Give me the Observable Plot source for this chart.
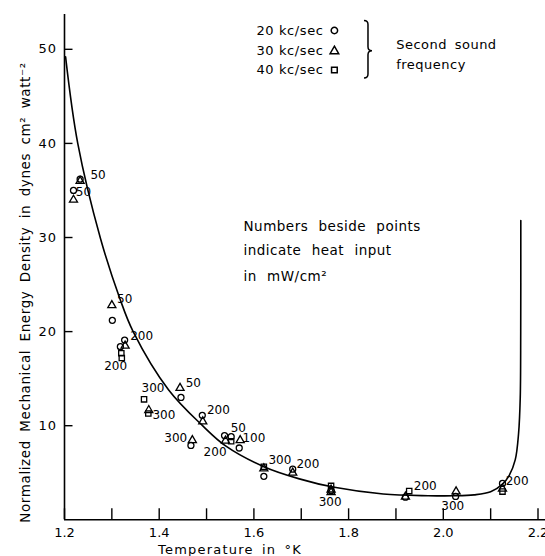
<!DOCTYPE html>
<html>
<head>
<meta charset="utf-8">
<script src="https://cdn.jsdelivr.net/npm/d3@7"></script>
<script src="https://cdn.jsdelivr.net/npm/@observablehq/plot@0.6"></script>
<style>
  html, body { margin: 0; padding: 0; background: #fff; }
  svg { font-family: "DejaVu Sans", sans-serif; }
  .ytitle text { letter-spacing: 0.6px; word-spacing: 3.5px; }
  .xtitle text { letter-spacing: 1.2px; word-spacing: 3px; }
  .legend-text text { letter-spacing: 0.6px; }
  .legend-title text { letter-spacing: 0.5px; word-spacing: 3px; }
  .note text { letter-spacing: 0.5px; word-spacing: 5.5px; }
  .ytick text { letter-spacing: 1px; }
</style>
</head>
<body>
<div id="chart"></div>
<script>
// ---- data ----
const freqs = ["20 kc/sec", "30 kc/sec", "40 kc/sec"];

// 20 kc/sec (circles)
const circleT = [1.219, 1.233, 1.301, 1.327, 1.318, 1.446, 1.491, 1.467, 1.538, 1.552, 1.569, 1.621, 1.682, 1.763, 1.920, 2.026, 2.125];
const circleE = [35.0, 36.2, 21.2, 19.1, 18.4, 13.0, 11.1, 7.9, 8.95, 8.83, 7.63, 4.62, 5.38, 3.1, 2.4, 2.48, 3.87];
// 30 kc/sec (triangles)
const triT = [1.219, 1.233, 1.300, 1.328, 1.378, 1.444, 1.492, 1.470, 1.540, 1.571, 1.621, 1.682, 1.763, 1.763, 1.920, 2.027, 2.125];
const triE = [34.0, 36.0, 22.8, 18.5, 11.65, 14.0, 10.45, 8.45, 8.4, 8.45, 5.45, 5.0, 3.2, 2.93, 2.45, 3.0, 3.3];
// 40 kc/sec (squares)
const sqT = [1.320, 1.321, 1.368, 1.377, 1.552, 1.621, 1.763, 1.928, 2.125];
const sqE = [17.7, 17.2, 12.8, 11.3, 8.35, 5.64, 3.6, 3.05, 3.0];

// heat input labels (mW/cm^2) and where they sit
const heatText = ["50", "50", "50", "200", "200", "300", "300", "50", "200", "300", "50", "100", "200", "300", "200", "300", "200", "300", "200"];
const heatT = [1.271, 1.240, 1.327, 1.363, 1.308, 1.387, 1.410, 1.472, 1.525, 1.435, 1.567, 1.600, 1.518, 1.655, 1.714, 1.761, 1.962, 2.020, 2.156];
const heatE = [36.6, 34.8, 23.5, 19.5, 16.35, 14.0, 11.1, 14.5, 11.7, 8.7, 9.7, 8.65, 7.14, 6.3, 5.94, 1.88, 3.57, 1.5, 4.06];

// theoretical curve
const curveT = [1.2023, 1.228, 1.276, 1.317, 1.345, 1.420, 1.490, 1.541, 1.621, 1.696, 1.770, 1.873, 1.968, 2.0225, 2.065, 2.100, 2.125, 2.139, 2.152, 2.159, 2.1625, 2.1635, 2.1637];
const curveE = [49.2, 40.0, 29.9, 23.5, 20.0, 13.8, 10.08, 7.82, 5.64, 4.35, 3.45, 2.74, 2.56, 2.55, 2.65, 2.98, 3.8, 4.7, 6.4, 9.2, 13.0, 20.0, 31.8];

const xTicksMajor = [1.2, 1.4, 1.6, 1.8, 2.0, 2.2];
const xTicksMinor = [1.2, 1.3, 1.4, 1.5, 1.6, 1.7, 1.8, 1.9, 2.0, 2.1, 2.2];
const yTicks = [10, 20, 30, 40, 50];

// ---- tables built from the arrays ----
const points = [
  ...circleT.map((t, i) => ({T: t, E: circleE[i], f: freqs[0]})),
  ...triT.map((t, i) => ({T: t, E: triE[i], f: freqs[1]})),
  ...sqT.map((t, i) => ({T: t, E: sqE[i], f: freqs[2]}))
];
const heat = heatText.map((s, i) => ({s, T: heatT[i], E: heatE[i]}));
const curve = curveT.map((t, i) => ({T: t, E: curveE[i]}));
const legend = freqs.map((f, i) => ({f, E: [52.0, 49.8, 47.8][i]}));

const W = 545, H = 556;
const mL = 64, mR = 7.5, mT = 14, mB = 36.7;
const plotW = W - mL - mR, plotH = H - mT - mB;
const txt = {fill: "#000", stroke: null};

function brace(index, scales) {
  const x = scales.x(1.842), y1 = scales.y(53.0), y2 = scales.y(46.9), ym = scales.y(49.8);
  const w = 4;
  const d = `M${x - w},${y1} Q${x},${y1} ${x},${y1 + w} L${x},${ym - w} Q${x},${ym} ${x + w},${ym} Q${x},${ym} ${x},${ym + w} L${x},${y2 - w} Q${x},${y2} ${x - w},${y2}`;
  return d3.create("svg:path").attr("d", d).attr("fill", "none").attr("stroke", "#000").attr("stroke-width", 1.5).node();
}

// wraps a mark so that its rendered group gets a CSS class
function classed(mark, cls) {
  return Object.assign(mark, {
    render(...args) {
      const g = Object.getPrototypeOf(mark).render.apply(this, args);
      if (g) g.classList.add(cls);
      return g;
    }
  });
}

const chart = Plot.plot({
  width: W, height: H,
  marginLeft: mL, marginRight: mR, marginTop: mT, marginBottom: mB,
  style: {background: "#fff", color: "#000", fontFamily: "DejaVu Sans, sans-serif"},
  x: {domain: [1.2, 2.2], axis: null},
  y: {domain: [0, 53.7], axis: null},
  symbol: {domain: freqs, range: ["circle", "triangle", "square"]},
  marks: [
    // axis lines
    Plot.ruleX([1.2], {stroke: "#000", strokeWidth: 1.6}),
    Plot.ruleY([0], {x1: 1.2, x2: 2.218, stroke: "#000", strokeWidth: 1.6}),
    // inward ticks
    Plot.tickX(xTicksMinor, {x: d => d, insetTop: plotH - 11, stroke: "#000", strokeWidth: 1.4}),
    Plot.tickY(yTicks, {y: d => d, insetRight: plotW - 8.5, stroke: "#000", strokeWidth: 1.4}),
    // tick labels
    classed(Plot.text(yTicks, {y: d => d, frameAnchor: "left", dx: -7.5, textAnchor: "end", fontSize: 13, text: d => String(d), ...txt}), "ytick"),
    Plot.axisX({ticks: xTicksMajor, tickSize: 0, tickPadding: 8, fontSize: 13, anchor: "bottom", label: null, tickFormat: d3.format(".1f")}),
    // axis titles
    classed(Plot.text(["Normalized Mechanical Energy Density in dynes cm² watt⁻²"], {
      frameAnchor: "left", rotate: -90, dx: 25 - mL, dy: 279 - (mT + plotH / 2) + 13, fontSize: 13.5, textAnchor: "middle", ...txt
    }), "ytitle"),
    classed(Plot.text(["Temperature in °K"], {
      frameAnchor: "bottom-left", dx: 229.5 - mL, dy: 34.5, fontSize: 13, textAnchor: "middle", ...txt
    }), "xtitle"),
    // theoretical curve
    Plot.line(curve, {x: "T", y: "E", curve: "catmull-rom", stroke: "#000", strokeWidth: 1.6}),
    // data points
    Plot.dot(points, {x: "T", y: "E", symbol: "f", r: 3, stroke: "#000", fill: "none", strokeWidth: 1.3}),
    Plot.text(heat, {x: "T", y: "E", text: "s", fontSize: 12, ...txt}),
    // legend
    classed(Plot.text(legend, {x: 1.747, y: "E", text: "f", textAnchor: "end", fontSize: 13, ...txt}), "legend-text"),
    Plot.dot(legend, {x: 1.770, y: "E", symbol: "f", r: 3.2, stroke: "#000", fill: "none", strokeWidth: 1.5}),
    brace,
    classed(Plot.text(["Second sound", "frequency"], {x: 1.9005, y: (d, i) => [50.5, 48.4][i], textAnchor: "start", fontSize: 13, ...txt}), "legend-title"),
    // annotation
    classed(Plot.text(["Numbers beside points", "indicate heat input", "in mW/cm²"], {
      x: 1.578, y: (d, i) => [31.1, 28.6, 25.8][i], textAnchor: "start", fontSize: 13.5, ...txt
    }), "note")
  ]
});
document.getElementById("chart").appendChild(chart);
</script>
</body>
</html>
